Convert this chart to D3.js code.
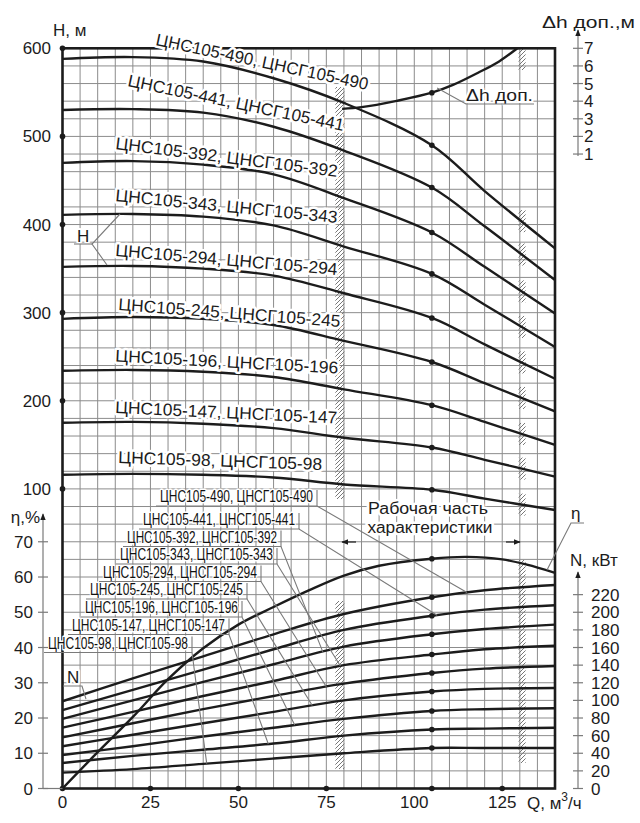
<!DOCTYPE html>
<html><head><meta charset="utf-8">
<script src="https://cdn.jsdelivr.net/npm/d3@7"></script>
<style>
html,body{margin:0;padding:0;background:#fff;}
svg{display:block;font-family:"Liberation Sans",Arial,sans-serif;}
</style></head><body>
<svg id="c" width="640" height="823"></svg>
<script>
// ---------- data ----------
const flowQ = [0, 20, 40, 60, 80, 105, 120, 140];
const models = ["490","441","392","343","294","245","196","147","98"];
const head490 = [588, 590, 585, 566, 538, 490, 438, 373];
const head441 = [530, 531, 527, 511, 484, 442, 398, 337];
const head392 = [470, 472, 468, 457, 430, 391, 352, 299];
const head343 = [411, 412, 409, 399, 375, 344, 309, 261];
const head294 = [352, 353, 350, 342, 322, 294, 264, 225];
const head245 = [293, 295, 293, 286, 268, 244, 220, 188];
const head196 = [234, 235, 233, 227, 213, 195, 176, 150];
const head147 = [175, 176, 174, 169, 158, 147, 133, 114];
const head98  = [116, 117, 116, 113, 105,  99,  89,  76];
const power490 = [99, 125, 150, 175, 198, 217, 225, 231];
const power441 = [89, 112, 135, 158, 180, 196, 203, 208];
const power392 = [79, 100, 121, 141, 161, 175, 181, 186];
const power343 = [69,  87, 105, 122, 140, 152, 158, 162];
const power294 = [58,  74,  90, 105, 119, 131, 136, 139];
const power245 = [48,  61,  74,  87, 100, 110, 113, 114];
const power196 = [38,  48,  59,  69,  79,  88,  90,  91];
const power147 = [29,  37,  44,  51,  60,  67,  68,  69];
const power98  = [18,  22,  28,  34,  40,  46,  46,  46];
const etaQ = [0, 10, 20, 30, 40, 50, 60, 70, 80, 90, 105, 115, 125, 132, 140];
const etaVal = [0, 10.3, 20.3, 31, 39.8, 46.5, 51.5, 56.2, 60.4, 63.2, 65.2, 65.7, 65, 63.5, 61.2];
const npshQ = [79.5, 85, 95, 105, 111, 118, 124, 129.3];
const npshVal = [3.56, 3.66, 4.02, 4.48, 4.92, 5.6, 6.24, 7.0];
const ratedQ = 105;
const workRange = [78.7, 130.5];
const qTicks = [0, 25, 50, 75, 100, 125];
const qDots = [0, 25, 50, 75, 105, 125];
const hTicks = [100, 200, 300, 400, 500, 600];
const etaTicks = [0, 10, 20, 30, 40, 50, 60, 70];
const nTicks = [0, 20, 40, 60, 80, 100, 120, 140, 160, 180, 200, 220];
const dhTicks = [1, 2, 3, 4, 5, 6, 7];
const heads = [head490, head441, head392, head343, head294, head245, head196, head147, head98];
const powers = [power490, power441, power392, power343, power294, power245, power196, power147, power98];

// ---------- layout (not data) ----------
const headLabelPos = [ // start x, baseline y, end x, end y
  [155, 45, 367, 90], [127, 86, 343, 131], [115, 149, 337, 177], [115, 201, 337, 223],
  [115, 256, 337, 275], [118, 310, 340, 327], [115, 361.5, 338, 373.5], [115, 413, 337, 423.5],
  [118, 463, 322, 470]];
const powerLabelPos = [ // left x, baseline, right x, leader target Q
  [160, 502, 313, 115], [143, 525, 295, 106.5], [127, 542.5, 277, 74], [120, 560, 273, 79],
  [103, 577.5, 257, 75], [90, 595, 243, 71], [85, 613, 238, 66], [72, 630.5, 225, 58.5],
  [48, 648.5, 188, 41]];

const svg = d3.select("#c");
const x = d3.scaleLinear().domain([0, 140]).range([62.5, 555]);
const yH = d3.scaleLinear().domain([-240, 600]).range([788.5, 48.3]);
const yEta = d3.scaleLinear().domain([0, 70]).range([yH(-240), yH(40)]);
const yN = d3.scaleLinear().domain([0, 220]).range([yH(-240), yH(-20)]);
const yDh = d3.scaleLinear().domain([0, 7]).range([yH(460), yH(600)]);
const ink = "#1c1c1c", gridC = "#8c8c8c", thin = "#7a7a7a";

function interp(xs, ys, q){
  for (let i = 0; i < xs.length - 1; i++) {
    if (q >= xs[i] && q <= xs[i+1]) { const t = (q - xs[i])/(xs[i+1]-xs[i]); return ys[i] + t*(ys[i+1]-ys[i]); }
  }
  return ys[ys.length-1];
}

// defs
const defs = svg.append("defs");
const pat = defs.append("pattern").attr("id","hatch").attr("patternUnits","userSpaceOnUse").attr("width",4).attr("height",4);
pat.append("path").attr("d","M-1,1 L1,-1 M0,4 L4,0 M3,5 L5,3").attr("stroke","#777").attr("stroke-width",1);
const mk = defs.append("marker").attr("id","arr").attr("viewBox","0 0 10 10").attr("refX",9).attr("refY",5)
  .attr("markerWidth",7).attr("markerHeight",7).attr("orient","auto-start-reverse").attr("markerUnits","userSpaceOnUse");
mk.append("path").attr("d","M0,1 L10,5 L0,9 Z").attr("fill",ink);

// grid
const grid = svg.append("g");
grid.selectAll("line.v").data(d3.range(0, 141, 5)).join("line")
  .attr("x1", d => x(d)).attr("x2", d => x(d)).attr("y1", yH(600)).attr("y2", yH(-240))
  .attr("stroke", gridC).attr("stroke-width", 1);
grid.selectAll("line.h").data(d3.range(-240, 601, 20)).join("line")
  .attr("x1", x(0)).attr("x2", x(140)).attr("y1", d => yH(d)).attr("y2", d => yH(d))
  .attr("stroke", gridC).attr("stroke-width", 1);

// hatched working-range boundaries
const hatch = svg.append("g").attr("fill","url(#hatch)");
hatch.append("rect").attr("x", x(workRange[0]) - 4).attr("width", 9).attr("y", 87).attr("height", 412);
hatch.append("rect").attr("x", x(workRange[0]) - 4).attr("width", 9).attr("y", 601).attr("height", 168);
heads.forEach(h => {
  const yy = yH(interp(flowQ, h, workRange[1]));
  hatch.append("rect").attr("x", x(workRange[1]) - 3).attr("width", 7).attr("y", yy - 11).attr("height", 22);
});
hatch.append("rect").attr("x", x(workRange[1]) - 3).attr("width", 7).attr("y", 48).attr("height", 22);
hatch.append("rect").attr("x", x(workRange[1]) - 3).attr("width", 7).attr("y", 560).attr("height", 203);

// curves
const line = (ys, sx, sy) => d3.line().x((d,i) => x(sx[i])).y(d => sy(d)).curve(d3.curveCatmullRom.alpha(0.5))(ys);
const curves = svg.append("g").attr("fill","none").attr("stroke",ink).attr("stroke-width",2.4);
heads.forEach(h => curves.append("path").attr("d", line(h, flowQ, yH)));
powers.forEach(p => curves.append("path").attr("d", line(p, flowQ, yN)));
curves.append("path").attr("d", line(etaVal, etaQ, yEta));
curves.append("path").attr("d", line(npshVal, npshQ, yDh));

// rated-point dots
const dots = svg.append("g").attr("fill", ink);
heads.forEach(h => dots.append("circle").attr("cx", x(ratedQ)).attr("cy", yH(interp(flowQ, h, ratedQ))).attr("r", 2.8));
powers.forEach(p => dots.append("circle").attr("cx", x(ratedQ)).attr("cy", yN(interp(flowQ, p, ratedQ))).attr("r", 2.8));
dots.append("circle").attr("cx", x(ratedQ)).attr("cy", yEta(interp(etaQ, etaVal, ratedQ))).attr("r", 2.8);
dots.append("circle").attr("cx", x(ratedQ)).attr("cy", yDh(interp(npshQ, npshVal, ratedQ))).attr("r", 2.8);

// frame
const frame = svg.append("g").attr("stroke", ink).attr("stroke-width", 2.6).attr("fill","none");
frame.append("rect").attr("x", x(0)).attr("y", yH(600)).attr("width", x(140)-x(0)).attr("height", yH(-240)-yH(600));
hTicks.forEach(t => svg.append("circle").attr("cx", x(0)).attr("cy", yH(t)).attr("r", 2.8).attr("fill", ink));
qDots.forEach(t => svg.append("circle").attr("cx", x(t)).attr("cy", yH(-240)).attr("r", 2.8).attr("fill", ink));

const txt = (g, s, xx, yy, opt = {}) => {
  const t = g.append("text").attr("x", xx).attr("y", yy).text(s).attr("fill", ink)
    .attr("font-size", opt.size || 17).attr("text-anchor", opt.anchor || "start");
  if (opt.halo) t.attr("stroke","#fff").attr("stroke-width", opt.halo).attr("paint-order","stroke").attr("stroke-linejoin","round");
  if (opt.len) t.attr("textLength", opt.len).attr("lengthAdjust","spacingAndGlyphs");
  return t;
};
const T = svg.append("g");

// axis labels
hTicks.forEach(t => txt(T, String(t), 51, yH(t) + 6, {anchor:"end"}));
txt(T, "H, м", 53, 36);
qTicks.forEach(t => txt(T, String(t), x(t), 808, {anchor:"middle"}));
const ql = txt(T, "Q, м", 527, 809);
ql.append("tspan").text("3").attr("font-size", 12).attr("dy", -8);
ql.append("tspan").text("/ч").attr("dy", 8);

// eta axis
const ax = svg.append("g").attr("stroke", thin).attr("stroke-width", 1.2);
ax.append("line").attr("x1", 43).attr("x2", 43).attr("y1", yEta(0)).attr("y2", 514).attr("marker-end","url(#arr)");
ax.append("line").attr("x1", 43).attr("x2", x(0)).attr("y1", yEta(0)).attr("y2", yEta(0));
etaTicks.forEach(t => ax.append("line").attr("x1", 38).attr("x2", 48).attr("y1", yEta(t)).attr("y2", yEta(t)));
etaTicks.forEach(t => txt(T, String(t), 33, yEta(t) + 6, {anchor:"end"}));
txt(T, "η,%", 40, 523, {anchor:"end"});

// N axis
ax.append("line").attr("x1", 578).attr("x2", 578).attr("y1", yN(0)).attr("y2", 572).attr("marker-end","url(#arr)");
nTicks.forEach(t => ax.append("line").attr("x1", 573).attr("x2", 583).attr("y1", yN(t)).attr("y2", yN(t)));
nTicks.forEach(t => txt(T, String(t), 591, yN(t) + 6));
txt(T, "N, кВт", 570, 566);

// dh axis
ax.append("line").attr("x1", 578).attr("x2", 578).attr("y1", yDh(1) + 2).attr("y2", 30).attr("marker-end","url(#arr)");
dhTicks.forEach(t => ax.append("line").attr("x1", 573).attr("x2", 583).attr("y1", yDh(t)).attr("y2", yDh(t)));
dhTicks.forEach(t => txt(T, String(t), 584, yDh(t) + 6));
txt(T, "Δh доп.,м", 542, 28, {len: 93});

// leaders (thin grey)
const L = svg.append("g").attr("stroke", thin).attr("stroke-width", 1.1).attr("fill","none");
L.append("polyline").attr("points", `${x(106.5)},88 466,104 534,104`);
txt(T, "Δh доп.", 466, 101, {halo: 4, len: 67});
L.append("polyline").attr("points", "120,214 92,244 107,265");
L.append("line").attr("x1", 74).attr("x2", 92).attr("y1", 244).attr("y2", 244);
txt(T, "H", 77, 242, {halo: 4});
L.append("polyline").attr("points", "63,686 82,686 86,699");
txt(T, "N", 67, 683, {halo: 4});
L.append("polyline").attr("points", `547,570 571,523 584,523`);
txt(T, "η", 571, 519, {halo: 3});

// power labels with leaders
powerLabelPos.forEach((p, i) => {
  const [lx, by, rx, tq] = p;
  const tx = x(tq), ty = yN(interp(flowQ, powers[i], tq));
  L.append("polyline").attr("points", `${lx - 4},${by + 4} ${rx + 4},${by + 4} ${tx},${ty}`);
  L.append("line").attr("x1", rx + 4).attr("x2", rx + 4).attr("y1", by + 4).attr("y2", by - 12);
  txt(T, `ЦНС105-${models[i]}, ЦНСГ105-${models[i]}`, lx, by, {size: 16, len: rx - lx, halo: 3})
    .attr("fill", "#111");
});

// head labels (rotated)
headLabelPos.forEach((p, i) => {
  const [x0, y0, x1, y1] = p;
  const ang = Math.atan2(y1 - y0, x1 - x0) * 180 / Math.PI;
  const len = Math.hypot(x1 - x0, y1 - y0);
  txt(T, `ЦНС105-${models[i]}, ЦНСГ105-${models[i]}`, 0, 0, {size: 17, len: len, halo: 5})
    .attr("transform", `translate(${x0},${y0}) rotate(${ang})`);
});

// working range text + arrows
txt(T, "Рабочая часть", 428, 514, {anchor:"middle", halo: 5, len: 120, size: 16});
txt(T, "характеристики", 430, 533, {anchor:"middle", halo: 5, len: 125, size: 16});
svg.append("line").attr("x1", 356).attr("x2", 342).attr("y1", 542).attr("y2", 542).attr("stroke", ink).attr("stroke-width",1.2).attr("marker-end","url(#arr)");
svg.append("line").attr("x1", 506).attr("x2", 520).attr("y1", 542).attr("y2", 542).attr("stroke", ink).attr("stroke-width",1.2).attr("marker-end","url(#arr)");
</script>
</body></html>
